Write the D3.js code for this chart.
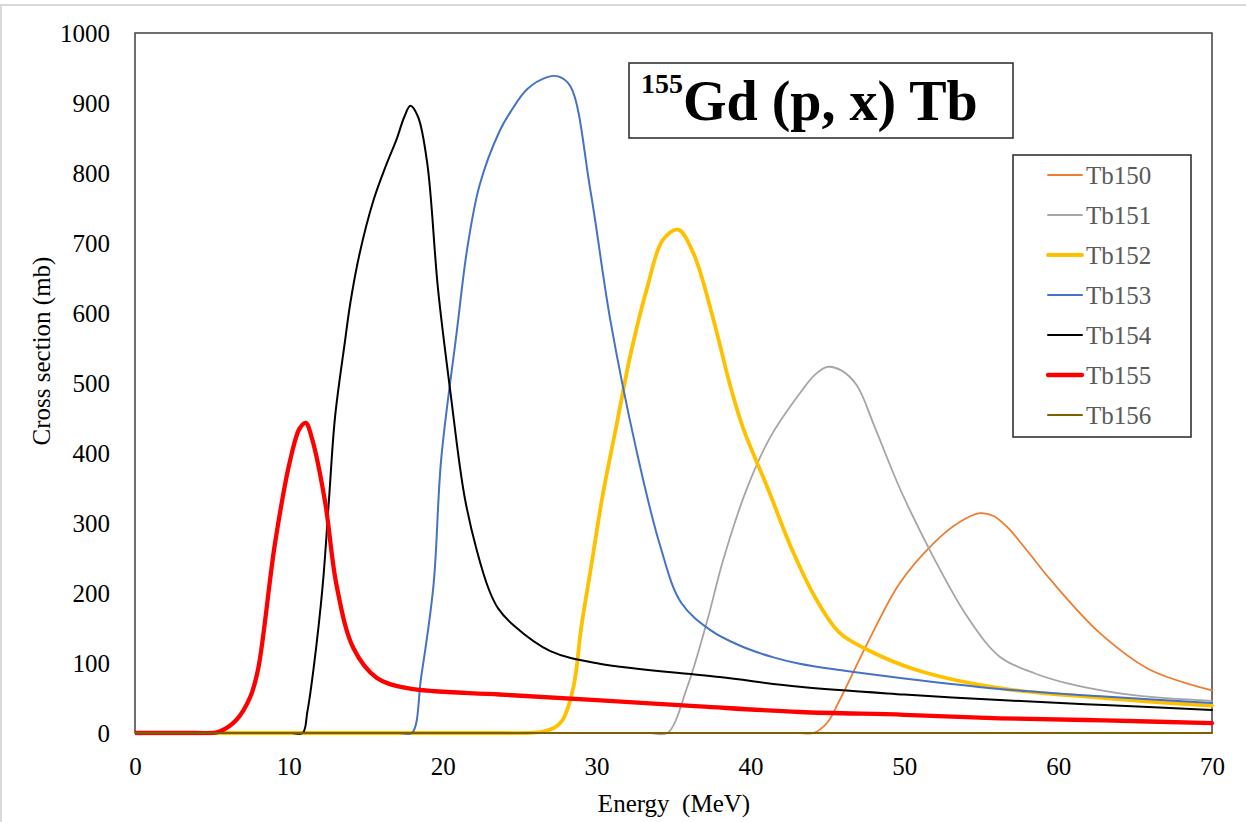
<!DOCTYPE html>
<html><head><meta charset="utf-8">
<script src="https://cdn.jsdelivr.net/npm/d3@7"></script>
<style>html,body{margin:0;padding:0;background:#fff;} svg{display:block;} svg text{font-family:"Liberation Serif",serif !important;}</style>
</head><body>
<svg id="chart" width="1246" height="822"></svg>
<script>
// ---- data ----
const seriesNames = ["Tb150","Tb151","Tb152","Tb153","Tb154","Tb155","Tb156"];
const seriesColors = ["#ED7D31","#A5A5A5","#FFC000","#4472C4","#000000","#FF0000","#7F6000"];
const xTicks = [0,10,20,30,40,50,60,70];
const yTicks = [0,100,200,300,400,500,600,700,800,900,1000];

const tb150E = [0,5,10,15,20,25,30,35,40,42,43.2,44.1,45.0,45.8,47.6,49.7,51.9,53.5,54.9,55.8,56.7,58,59.5,62.7,66.0,70];
const tb150V = [0,0,0,0,0,0,0,0,0,0,0,0,15,47,128,214,271,300,314,310,294,260,219,143,90,61];
const tb151E = [0,5,10,15,20,25,30,32,33.5,34.6,35.9,37.2,38.2,39.8,41.3,43.2,44.2,45.0,45.9,46.9,48.1,49.7,51.9,54.1,56.2,58.5,60.6,64.9,70];
const tb151V = [0,0,0,0,0,0,0,0,0,0,66,161,245,351,423,485,512,523,518,497,436,350,251,166,109,85,71,54,46];
const tb152E = [0,5,10,15,20,22,24,25.5,26.5,27.3,27.8,28.5,29.0,29.7,30.4,31.3,32.2,33.3,34.3,35.3,36.3,37.6,38.7,39.5,41.1,42.8,44.3,45.8,47.6,50.8,56.2,63,70];
const tb152V = [0,0,0,0,0,0,0,0,2,8,19,66,150,245,340,440,540,637,704,719,685,590,495,437,351,257,190,143,119,90,64,50,39];
const tb153E = [0,5,10,14,16,17.2,18.0,18.6,19.4,19.9,20.9,21.6,22.4,23.7,24.4,25.5,26.8,27.5,28.3,29.6,30.9,32.6,34.1,35.5,37.4,39.3,41.5,43.2,45.8,50,56.2,63,70];
const tb153V = [0,0,0,0,0,0,0,80,211,391,571,693,783,860,887,920,937,938,924,775,589,403,270,186,147,125,108,99,90,78,63,52,43];
const tb154E = [0,4,7,9,10.2,10.9,11.2,11.6,12.2,12.6,13.0,13.65,14.0,14.6,15.5,16.3,17.0,17.5,17.9,18.4,19.0,19.7,20.5,21.4,22.2,23.0,23.6,24.6,27.0,30.2,38,43.2,50,56.2,63,70];
const tb154V = [0,0,0,0,0,0,30,91,211,331,451,560,615,685,761,810,848,880,896,880,813,633,487,340,262,205,178,154,117,99,80,66,55,47,40,33];
const tb155E = [0,2,4,5,5.5,6.6,7.5,8.0,9.1,10.1,10.7,11.1,11.5,12.35,13.1,14.2,15.7,17.7,23.7,30,36.7,43.2,50,56.2,63,70];
const tb155V = [0,0,0,0,2,19,52,91,271,391,435,443,421,331,211,121,79,64,55,47,38,30,26,21,18,14];
const tb156E = [0,70];
const tb156V = [0,0];

const seriesE = [tb150E,tb151E,tb152E,tb153E,tb154E,tb155E,tb156E];
const seriesV = [tb150V,tb151V,tb152V,tb153V,tb154V,tb155V,tb156V];
const seriesWidth = [1.8,1.8,3.8,2.0,2.0,4.3,2.0];

// ---- layout ----
const FONT = "Liberation Serif";
const svg = d3.select("#chart");
const L = 135, R = 1212, T = 33, B = 733;
const x = d3.scaleLinear().domain([0,70]).range([L,R]);
const y = d3.scaleLinear().domain([0,1000]).range([B,T]);

svg.append("defs").append("clipPath").attr("id","plotclip")
  .append("rect").attr("x",L).attr("y",T-10).attr("width",R-L+3).attr("height",B-T+12.5);

// outer frame
svg.append("rect").attr("x",1).attr("y",5).attr("width",1260).attr("height",840)
  .attr("fill","none").attr("stroke","#d9d9d9").attr("stroke-width",2);

// axes (labels only)
const gx = svg.append("g").attr("transform",`translate(0,${B})`)
  .call(d3.axisBottom(x).tickValues(xTicks).tickSize(0).tickPadding(24).tickFormat(d3.format("d")));
const gy = svg.append("g").attr("transform",`translate(${L},0)`)
  .call(d3.axisLeft(y).tickValues(yTicks).tickSize(0).tickPadding(25).tickFormat(d3.format("d")));
[gx,gy].forEach(g=>{
  g.attr("font-family",FONT).attr("font-size",25);
  g.select(".domain").remove();
  g.selectAll("text").attr("fill","#000");
});

// plot frame
svg.append("rect").attr("x",L).attr("y",T).attr("width",R-L).attr("height",B-T)
  .attr("fill","none").attr("stroke","#404040").attr("stroke-width",1.5);

// lines
const line = d3.line().x(d=>x(d[0])).y(d=>y(d[1])).curve(d3.curveCatmullRom.alpha(0.5));
const lg = svg.append("g").attr("clip-path","url(#plotclip)");
seriesNames.forEach((n,i)=>{
  const pts = seriesE[i].map((e,j)=>[e, seriesV[i][j]]);
  lg.append("path").datum(pts).attr("d",line)
    .attr("fill","none").attr("stroke",seriesColors[i])
    .attr("stroke-width",seriesWidth[i]).attr("stroke-linejoin","round").attr("stroke-linecap","round");
});

// axis titles
svg.append("text").attr("x",674).attr("y",812).attr("text-anchor","middle")
  .attr("font-size",25).attr("fill","#000").style("white-space","pre").text("Energy  (MeV)");
svg.append("text").attr("transform","translate(50,351) rotate(-90)").attr("text-anchor","middle")
  .attr("font-size",25).attr("fill","#000").text("Cross section (mb)");

// title box
svg.append("rect").attr("x",629).attr("y",63).attr("width",384).attr("height",75)
  .attr("fill","#fff").attr("stroke","#262626").attr("stroke-width",1.5);
const tt = svg.append("text").attr("x",641).attr("y",120).attr("font-weight","bold").attr("fill","#000");
tt.append("tspan").attr("font-size",28).attr("dy",-27).text("155");
tt.append("tspan").attr("font-size",56).attr("dy",27).text("Gd (p, x) Tb");

// legend
svg.append("rect").attr("x",1013).attr("y",155).attr("width",178).attr("height",282)
  .attr("fill","#fff").attr("stroke","#262626").attr("stroke-width",1.5);
seriesNames.forEach((n,i)=>{
  const ry = 175 + i*40;
  svg.append("line").attr("x1",1048).attr("x2",1082).attr("y1",ry).attr("y2",ry)
    .attr("stroke",seriesColors[i]).attr("stroke-width",seriesWidth[i]).attr("stroke-linecap","round");
  svg.append("text").attr("x",1086).attr("y",ry).attr("dy","0.35em")
    .attr("font-size",25).attr("fill","#595959").text(n);
});
</script>
</body></html>
